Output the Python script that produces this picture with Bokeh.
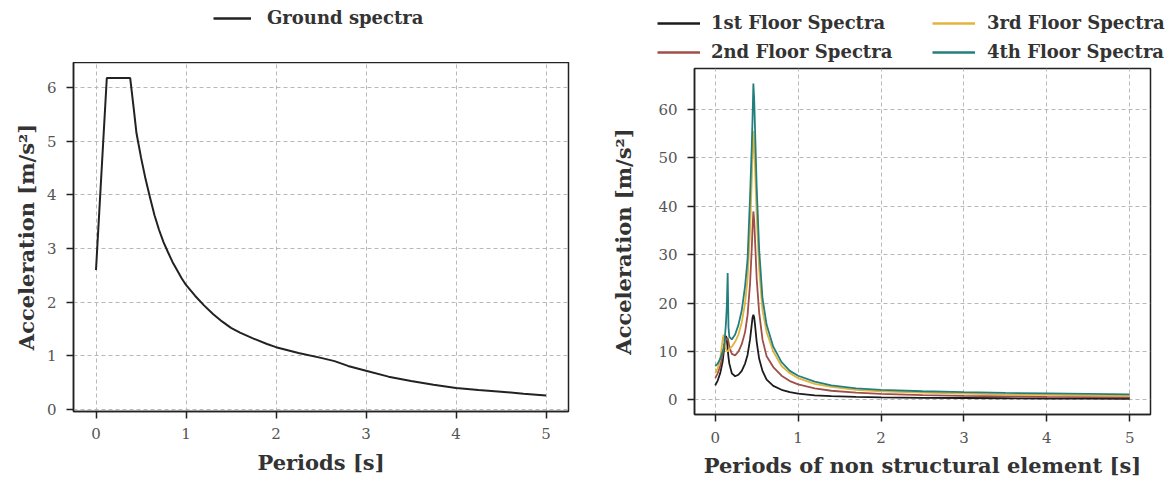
from bokeh.plotting import figure
from bokeh.models import Legend, LegendItem, Range1d, FixedTicker
from bokeh.layouts import row, column
from bokeh.embed import file_html
from bokeh.resources import INLINE

# ---------------- data ----------------
x_ticks = [0, 1, 2, 3, 4, 5]
left_y_ticks = [0, 1, 2, 3, 4, 5, 6]
right_y_ticks = [0, 10, 20, 30, 40, 50, 60]

ground_T = [0.0, 0.12, 0.38, 0.42, 0.45, 0.50, 0.55, 0.60, 0.65, 0.70, 0.75,
            0.80, 0.85, 0.90, 0.95, 1.00, 1.10, 1.20, 1.30, 1.40, 1.50, 1.60,
            1.75, 1.90, 2.00, 2.25, 2.50, 2.65, 2.80, 3.00, 3.25, 3.50, 3.75,
            4.00, 4.25, 4.50, 4.75, 5.00]
ground_acc = [2.6, 6.18, 6.18, 5.6, 5.15, 4.7, 4.3, 3.95, 3.62, 3.35, 3.12,
              2.93, 2.75, 2.6, 2.45, 2.32, 2.12, 1.94, 1.78, 1.64, 1.52, 1.43,
              1.32, 1.22, 1.16, 1.05, 0.96, 0.90, 0.81, 0.72, 0.61, 0.53, 0.46,
              0.40, 0.36, 0.33, 0.29, 0.26]
ground_label = "Ground spectra"

floor_T = [0.0, 0.03, 0.06, 0.09, 0.10, 0.11, 0.13, 0.14, 0.15, 0.16, 0.17,
           0.20, 0.24, 0.28, 0.32, 0.36, 0.39, 0.42, 0.44, 0.45, 0.46, 0.47,
           0.48, 0.50, 0.53, 0.57, 0.62, 0.70, 0.80, 0.90, 1.0, 1.2, 1.4,
           1.7, 2.0, 2.5, 3.0, 3.5, 4.0, 4.5, 5.0]
floor1 = [3.0, 4.0, 5.5, 8.0, 9.5, 11.0, 13.2, 12.5, 10.5, 8.8, 7.5,
          5.5, 4.9, 5.2, 6.0, 7.5, 9.3, 12.5, 15.5, 17.0, 17.6, 17.0,
          15.5, 12.0, 8.5, 6.0, 4.2, 2.9, 2.1, 1.6, 1.3, 0.95, 0.8,
          0.65, 0.55, 0.45, 0.4, 0.35, 0.3, 0.28, 0.25]
floor2 = [4.5, 5.5, 7.0, 9.5, 10.5, 11.5, 12.5, 12.7, 12.8, 12.0, 11.0,
          9.5, 9.2, 10.0, 11.5, 14.0, 17.5, 24.0, 31.0, 35.5, 38.9, 37.0,
          33.0, 25.0, 18.0, 12.5, 9.0, 6.8, 5.0, 3.9, 3.2, 2.4, 1.9,
          1.5, 1.25, 1.0, 0.85, 0.75, 0.65, 0.6, 0.55]
floor3 = [5.5, 6.5, 8.5, 12.5, 13.5, 12.5, 10.5, 10.2, 10.0, 10.2, 10.5,
          11.0, 12.0, 13.5, 16.0, 20.0, 25.0, 35.0, 45.0, 50.5, 55.5, 53.0,
          48.0, 38.0, 27.0, 18.5, 14.0, 10.0, 7.0, 5.5, 4.5, 3.3, 2.7,
          2.1, 1.8, 1.5, 1.3, 1.15, 1.05, 0.95, 0.9]
floor4 = [7.0, 7.5, 8.5, 10.0, 10.5, 11.5, 16.0, 19.5, 26.2, 15.0, 13.0,
          12.5, 13.5, 15.5, 18.5, 23.5, 29.0, 42.0, 52.0, 58.0, 65.3, 62.0,
          56.0, 44.0, 31.0, 21.0, 15.5, 11.0, 7.8, 6.0, 5.0, 3.8, 3.0,
          2.4, 2.1, 1.8, 1.6, 1.45, 1.35, 1.25, 1.15]
floor_series = [floor1, floor2, floor3, floor4]
floor_labels = ["1st Floor Spectra", "2nd Floor Spectra",
                "3rd Floor Spectra", "4th Floor Spectra"]
floor_colors = ["#1c1c1c", "#9e4f48", "#e2b43c", "#237f7d"]

SERIF = "DejaVu Serif"


def style(p, xlabel, ylabel, tick_standoff, xlabel_standoff, ylabel_standoff):
    p.outline_line_color = "#222222"
    p.outline_line_width = 1.5
    p.outline_line_alpha = 1.0
    p.background_fill_color = "white"
    p.border_fill_color = "white"
    p.grid.grid_line_color = "#b8b8b8"
    p.grid.grid_line_dash = "4 3"
    p.grid.grid_line_width = 1
    for ax in (p.xaxis[0], p.yaxis[0]):
        ax.axis_line_color = "#222222"
        ax.axis_line_width = 1.5
        ax.major_tick_line_color = "#222222"
        ax.major_tick_line_width = 1.5
        ax.major_tick_out = 7
        ax.major_tick_in = 0
        ax.minor_tick_line_color = None
        ax.major_label_text_font = SERIF
        ax.major_label_text_font_size = "15px"
        ax.major_label_text_color = "#555555"
        ax.axis_label_text_font = SERIF
        ax.axis_label_text_font_style = "bold"
        ax.axis_label_text_font_size = "21px"
        ax.axis_label_text_color = "#333333"
    p.xaxis.axis_label = xlabel
    p.yaxis.axis_label = ylabel
    p.xaxis.major_label_standoff = tick_standoff
    p.yaxis.major_label_standoff = 10
    p.xaxis.axis_label_standoff = xlabel_standoff
    p.yaxis.axis_label_standoff = ylabel_standoff


def make_legend(items, loc, glyph_w, standoff):
    return Legend(items=items, location=loc, orientation="vertical",
                  glyph_width=glyph_w, glyph_height=20, label_height=20,
                  label_standoff=standoff, padding=0, margin=0, spacing=8,
                  border_line_alpha=0, background_fill_alpha=0,
                  label_text_font=SERIF, label_text_font_style="bold",
                  label_text_font_size="18px", label_text_color="#333333")


# ---------------- legend strip (shared, above both panels) ----------------
lf = figure(width=1173, height=62, min_border=0,
            x_range=Range1d(0, 1), y_range=Range1d(0, 1),
            x_axis_location=None, y_axis_location=None,
            output_backend="svg", toolbar_location=None)
lf.outline_line_color = None
lf.grid.visible = False
lf.background_fill_color = "white"
lf.border_fill_color = "white"
# sample renderers for the legend keys (kept outside the visible range)
g = lf.line([5, 6], [5, 6], line_color="#222222", line_width=2.5)
dummies = [lf.line([5, 6], [5, 6], line_color=c, line_width=2.5)
           for c in floor_colors]
lf.add_layout(make_legend([LegendItem(label=ground_label, renderers=[g])],
                          (213, 34), 38, 16), "center")
lf.add_layout(make_legend(
    [LegendItem(label=floor_labels[0], renderers=[dummies[0]]),
     LegendItem(label=floor_labels[1], renderers=[dummies[1]])],
    (657, 0), 43, 11), "center")
lf.add_layout(make_legend(
    [LegendItem(label=floor_labels[2], renderers=[dummies[2]]),
     LegendItem(label=floor_labels[3], renderers=[dummies[3]])],
    (932, 0), 43, 12), "center")

# ---------------- left figure ----------------
p1 = figure(frame_width=495, frame_height=349,
            min_border_left=73, min_border_right=40,
            min_border_top=0, min_border_bottom=70,
            x_range=Range1d(-0.25, 5.25), y_range=Range1d(-0.04, 6.47),
            output_backend="svg", toolbar_location=None)
style(p1, "Periods [s]", "Acceleration [m/s²]", 9, 8, 5)
p1.xaxis.ticker = FixedTicker(ticks=x_ticks)
p1.yaxis.ticker = FixedTicker(ticks=left_y_ticks)
p1.line(ground_T, ground_acc, line_color="#222222", line_width=2)

# ---------------- right figure ----------------
p2 = figure(frame_width=456, frame_height=346,
            min_border_left=78, min_border_right=31,
            min_border_top=6, min_border_bottom=67,
            x_range=Range1d(-0.25, 5.25), y_range=Range1d(-3.0, 68.4),
            output_backend="svg", toolbar_location=None)
style(p2, "Periods of non structural element [s]", "Acceleration [m/s²]", 10, 7, 19)
p2.xaxis.ticker = FixedTicker(ticks=x_ticks)
p2.yaxis.ticker = FixedTicker(ticks=right_y_ticks)
for ys, col in zip(floor_series, floor_colors):
    p2.line(floor_T, ys, line_color=col, line_width=1.8)

layout = column(lf, row(column(p1), column(p2)))
open("out.html", "w").write(file_html(layout, INLINE))
